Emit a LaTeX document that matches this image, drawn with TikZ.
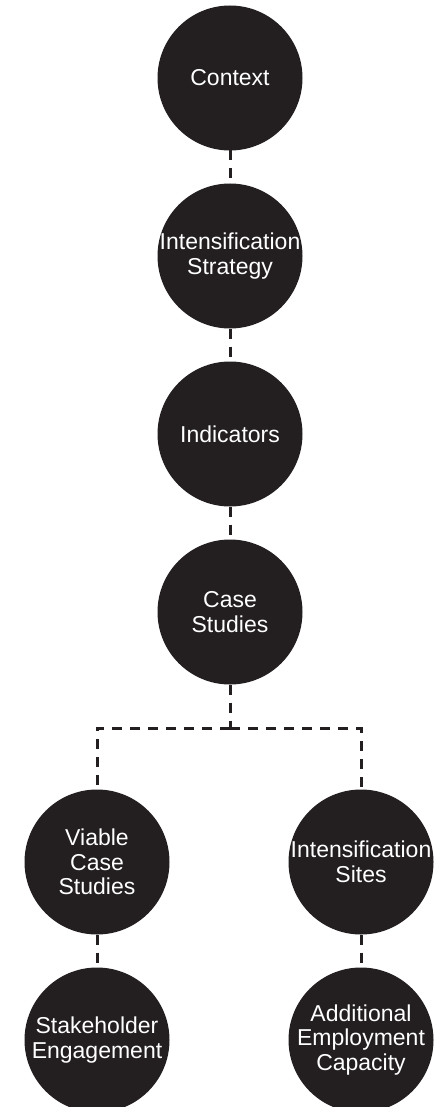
\documentclass[tikz,border=0pt]{standalone}
\usepackage{fontspec}
\setmainfont{Liberation Sans}
\usepackage{xcolor}
\usetikzlibrary{positioning}

\definecolor{ink}{HTML}{231F20}

\begin{document}
\begin{tikzpicture}[
    x=1pt, y=1pt,
    node distance=33pt,
    stage/.style={circle, fill=ink, text=white, minimum size=145pt, inner sep=-3pt, outer sep=0pt, align=center, font=\fontsize{23}{24.5}\selectfont},
    link/.style={draw=ink, line width=3pt, dash pattern=on 10pt off 8pt}
]
\useasboundingbox (0,0) rectangle (445,-1107);

\node[stage] (context) at (230,-78) {Context};
\node[stage, below=of context] (strategy) {Intensification\\Strategy};
\node[stage, below=of strategy] (indicators) {Indicators};
\node[stage, below=of indicators] (cases) {Case\\Studies};
\coordinate (split) at (230,-728);

\node[stage] (viable) at (97,-862) {Viable\\Case\\Studies};
\node[stage] (sites) at (361,-862) {Intensification\\Sites};
\node[stage, below=of viable] (stakeholder) {Stakeholder\\Engagement};
\node[stage, below=of sites] (capacity) {Additional\\Employment\\Capacity};

\draw[link] (context) -- (strategy);
\draw[link] (strategy) -- (indicators);
\draw[link] (indicators) -- (cases);
\draw[link] (cases) -- (split);
\draw[link] (split) -| (viable);
\draw[link] (split) -| (sites);
\draw[link] (viable) -- (stakeholder);
\draw[link] (sites) -- (capacity);
\end{tikzpicture}
\end{document}
